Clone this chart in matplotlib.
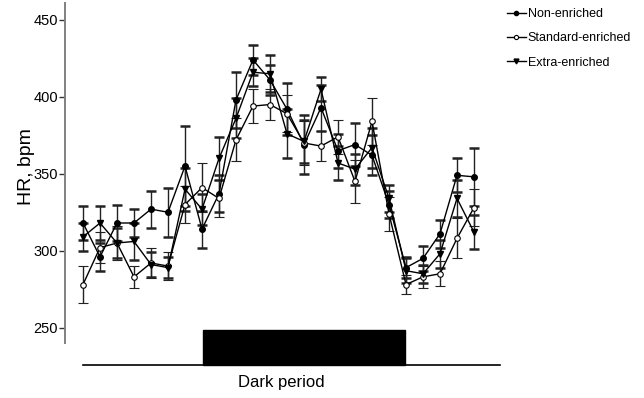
import numpy as np
import matplotlib
matplotlib.use("Agg")
import matplotlib.pyplot as plt
from matplotlib.patches import Rectangle
from matplotlib.lines import Line2D

plt.rcParams['font.family'] = ['Liberation Sans Narrow', 'Liberation Sans', 'DejaVu Sans']

# 24 time points (hourly)
timepoints = np.arange(24)

non_enriched = [318, 296, 318, 318, 327, 325, 355, 314, 337, 398, 424, 411,
                392, 369, 393, 365, 369, 362, 330, 289, 295, 311, 349, 348]
non_err = [11, 9, 12, 9, 12, 16, 26, 12, 12, 18, 10, 10,
           17, 19, 15, 11, 14, 13, 9, 7, 8, 9, 11, 19]

standard = [278, 302, 305, 283, 292, 290, 330, 341, 334, 372, 394, 395,
            389, 370, 368, 374, 345, 384, 324, 278, 283, 285, 308, 328]
standard_err = [12, 10, 11, 7, 10, 9, 12, 16, 12, 14, 11, 10,
                12, 14, 10, 11, 14, 15, 11, 6, 7, 8, 13, 12]

extra = [309, 318, 305, 306, 291, 289, 340, 327, 360, 386, 416, 415,
         376, 371, 405, 357, 353, 367, 334, 287, 285, 298, 334, 312]
extra_err = [9, 11, 10, 12, 8, 7, 14, 10, 14, 13, 9, 12,
             16, 14, 8, 11, 10, 13, 9, 8, 6, 9, 12, 11]

labels = ["Non-enriched", "Standard-enriched", "Extra-enriched"]

# dark period bar, in timepoint units
dark_start = 7.05
dark_end = 18.95
line_start = 0.0
line_end = 24.5

fig = plt.figure(figsize=(6.44, 3.98), dpi=100)
ax = fig.add_axes([65 / 644, 1 - 343 / 398, (500 - 65) / 644, 340 / 398])

ebkw = dict(color='black', lw=1, capsize=3.5, capthick=1.8, elinewidth=1,
            ecolor='#222222', markersize=4)
ax.errorbar(timepoints, non_enriched, yerr=non_err, marker='o',
            mfc='black', mec='black', **ebkw)
ax.errorbar(timepoints, standard, yerr=standard_err, marker='o',
            mfc='white', mec='black', mew=0.8, **ebkw)
ax.errorbar(timepoints, extra, yerr=extra_err, marker='v',
            mfc='black', mec='black', **ebkw)

ax.set_xlim(-18 / 17, (500 - 83) / 17)
ax.set_ylim(240, 461)
ax.set_yticks([250, 300, 350, 400, 450])
ax.set_xticks([])
for s in ['top', 'right', 'bottom']:
    ax.spines[s].set_visible(False)
ax.spines['left'].set_color('#808080')
ax.spines['left'].set_linewidth(1.4)
ax.tick_params(axis='y', direction='out', length=4, width=1, color='#333333',
               labelsize=10.5, pad=1)
ax.set_ylabel("HR, bpm", fontsize=14, labelpad=0)
ax.yaxis.set_label_coords(-0.07, 0.52)

# dark period indicator below the data
ax.add_patch(Rectangle((dark_start, 226), dark_end - dark_start, 22.5,
                       facecolor='black', edgecolor='black', clip_on=False))
ax.plot([line_start, line_end], [226, 226], color='black', lw=1.2, clip_on=False)
ax.text((line_start + line_end) / 2 - 0.6, 214.5, "Dark period", ha='center',
        va='center', fontsize=12)

handles = [
    Line2D([], [], color='black', lw=1, marker='o', ms=3, mfc='black'),
    Line2D([], [], color='black', lw=1, marker='o', ms=3, mfc='white', mew=0.8),
    Line2D([], [], color='black', lw=1, marker='v', ms=3.5, mfc='black'),
]
fig.legend(handles=handles, labels=labels, loc='upper left',
           bbox_to_anchor=(502 / 644, 1 - 3 / 398), frameon=False,
           fontsize=9, handlelength=1.5, handletextpad=0.15,
           labelspacing=0.98, borderaxespad=0)

fig.savefig("out.png", dpi=100)
